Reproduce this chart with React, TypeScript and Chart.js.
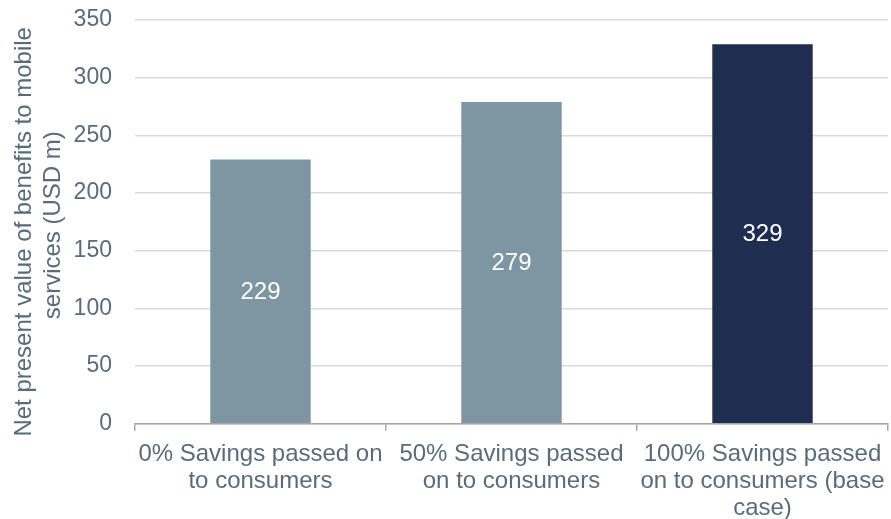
import React, { useEffect, useRef } from "react";
import { Chart, registerables } from "chart.js";

Chart.register(...registerables);

const categories: string[][] = [
  ["0% Savings passed on", "to consumers"],
  ["50% Savings passed", "on to consumers"],
  ["100% Savings passed", "on to consumers (base", "case)"],
];
const values: number[] = [229, 279, 329];
const barColors: string[] = ["#7D96A1", "#7D96A1", "#1F2D50"];
const yTitle: string[] = ["Net present value of benefits to mobile   ", "services (USD m) "];

const FONT = "'Liberation Sans', Arial, sans-serif";
const TEXT = "#5A6B7B";

const valueLabels = {
  id: "valueLabels",
  afterDatasetsDraw(chart: any) {
    const ctx = chart.ctx;
    const meta = chart.getDatasetMeta(0);
    ctx.save();
    ctx.font = `24px ${FONT}`;
    ctx.fillStyle = "#FFFFFF";
    ctx.textAlign = "center";
    ctx.textBaseline = "middle";
    meta.data.forEach((bar: any, i: number) => {
      const y = (bar.y + bar.base) / 2;
      ctx.fillText(String(values[i]), bar.x, y + 1);
    });
    ctx.restore();
  },
};

export default function App() {
  const ref = useRef<HTMLCanvasElement>(null);
  useEffect(() => {
    document.body.style.margin = "0";
    const chart = new Chart(ref.current!, {
      type: "bar",
      data: {
        labels: categories,
        datasets: [
          {
            data: values,
            backgroundColor: barColors,
            barPercentage: 0.4,
            categoryPercentage: 1,
          },
        ],
      },
      options: {
        animation: false,
        responsive: false,
        maintainAspectRatio: false,
        layout: { padding: { top: 20, right: 3, left: 10, bottom: -13 } },
        plugins: { legend: { display: false }, tooltip: { enabled: false } },
        scales: {
          x: {
            afterFit(scale: any) {
              scale.paddingRight = 0;
              scale.paddingLeft = 0;
            },
            grid: {
              offset: true,
              drawOnChartArea: false,
              drawTicks: true,
              tickLength: 7,
              color: "#A6A6A6",
              lineWidth: 1.5,
            },
            border: { color: "#A6A6A6", width: 1.5 },
            ticks: {
              color: TEXT,
              font: { family: FONT, size: 24, lineHeight: 1.13 },
              padding: 10,
              maxRotation: 0,
              autoSkip: false,
            },
          },
          y: {
            min: 0,
            max: 350,
            ticks: {
              stepSize: 50,
              color: TEXT,
              font: { family: FONT, size: 23 },
              padding: 3,
            },
            grid: {
              color: "#D9D9D9",
              lineWidth: 1.5,
              drawTicks: true,
              tickLength: 20,
              tickColor: "rgba(0,0,0,0)",
            },
            border: { display: false },
            title: {
              display: true,
              text: yTitle,
              color: TEXT,
              font: { family: FONT, size: 24, lineHeight: 1.2 },
              padding: { top: 0, bottom: 3 },
            },
          },
        },
      },
      plugins: [valueLabels],
    });
    return () => chart.destroy();
  }, []);
  return (
    <div style={{ position: "fixed", left: 0, top: 0, width: 891, height: 519 }}>
      <canvas ref={ref} width={891} height={519} style={{ display: "block" }} />
    </div>
  );
}
